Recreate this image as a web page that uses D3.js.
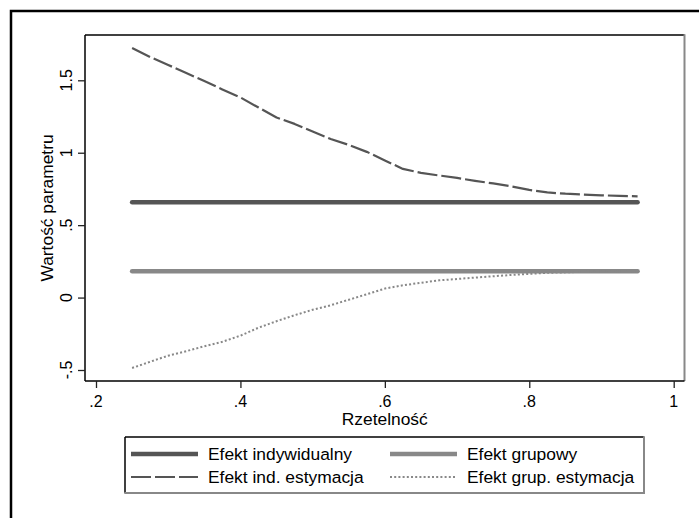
<!DOCTYPE html>
<html><head><meta charset="utf-8">
<script src="https://cdn.jsdelivr.net/npm/d3@7"></script>
<style>
html,body{margin:0;padding:0;background:#fff;}
svg{display:block;font-family:"Liberation Sans",Arial,sans-serif;}
</style></head>
<body>
<svg id="c" width="699" height="518"></svg>
<script>
// ---- data ----
const rel = [0.25,0.275,0.30,0.325,0.35,0.375,0.40,0.425,0.45,0.475,0.50,0.525,0.55,0.575,0.60,0.625,0.65,0.675,0.70,0.725,0.75,0.775,0.80,0.825,0.85,0.875,0.90,0.925,0.95];
const efektInd = rel.map(() => 0.658);
const efektGrup = rel.map(() => 0.181);
const indEst = [1.723,1.661,1.606,1.550,1.495,1.437,1.382,1.312,1.243,1.199,1.147,1.095,1.054,1.006,0.947,0.888,0.861,0.843,0.826,0.806,0.788,0.768,0.743,0.726,0.717,0.711,0.706,0.702,0.699];
const grupEst = [-0.486,-0.443,-0.401,-0.370,-0.336,-0.305,-0.263,-0.208,-0.163,-0.122,-0.084,-0.053,-0.015,0.023,0.062,0.085,0.102,0.119,0.128,0.138,0.147,0.156,0.164,0.171,0.174,0.178,0.180,0.181,0.181];
const xTicks = [0.2,0.4,0.6,0.8,1];
const xTickLabels = [".2",".4",".6",".8","1"];
const yTicks = [-0.5,0,0.5,1,1.5];
const yTickLabels = ["-.5","0",".5","1","1.5"];
const seriesNames = ["Efekt indywidualny","Efekt grupowy","Efekt ind. estymacja","Efekt grup. estymacja"];

const svg = d3.select("#c");
const x = d3.scaleLinear().domain([0.2,1]).range([96,673.7]);
const y = d3.scaleLinear().domain([-0.5,1.5]).range([370,80.3]);
const L=85, R=684.5, T=35, B=381;

// outer frame
svg.append("rect").attr("x",11).attr("y",11).attr("width",700).attr("height",520)
  .attr("fill","none").attr("stroke","#000").attr("stroke-width",2.5);

// plot region frame
svg.append("line").attr("x1",L).attr("x2",R).attr("y1",T).attr("y2",T).attr("stroke","#000").attr("stroke-width",1.5);
svg.append("line").attr("x1",R).attr("x2",R).attr("y1",T-0.7).attr("y2",B).attr("stroke","#888").attr("stroke-width",2);

// series
const styles = [
  {c:"#555", w:4.5, d:null, cap:"round"},
  {c:"#888", w:4.5, d:null, cap:"round"},
  {c:"#555", w:2.2, d:"20,4", cap:"butt"},
  {c:"#888", w:2, d:"2,2.2", cap:"butt"}
];
const data = [efektInd, efektGrup, indEst, grupEst];
const line = d3.line().x((d,i)=>x(rel[i])).y(d=>y(d));
data.forEach((s,k)=>{
  const p = svg.append("path").datum(s).attr("d",line)
    .attr("fill","none").attr("stroke",styles[k].c).attr("stroke-width",styles[k].w)
    .attr("stroke-linecap",styles[k].cap).attr("stroke-linejoin","round");
  if(styles[k].d) p.attr("stroke-dasharray",styles[k].d);
});

// axes
const yAx = svg.append("g").attr("transform",`translate(${L},0)`)
  .call(d3.axisLeft(y).tickValues(yTicks).tickSize(7).tickFormat(""));
yAx.select(".domain").attr("d",`M0,${T}V${B}`).attr("stroke","#000").attr("stroke-width",1.5);
yAx.selectAll(".tick line").attr("stroke","#222").attr("stroke-width",1.3);
const xAx = svg.append("g").attr("transform",`translate(0,${B})`)
  .call(d3.axisBottom(x).tickValues(xTicks).tickSize(7).tickFormat(""));
xAx.select(".domain").attr("d",`M${L},0H${R}`).attr("stroke","#000").attr("stroke-width",1.5);
xAx.selectAll(".tick line").attr("stroke","#222").attr("stroke-width",1.3);

// tick labels
yTicks.forEach((v,i)=>{
  svg.append("text").attr("transform",`translate(72,${y(v)}) rotate(-90)`)
    .attr("text-anchor","middle").attr("font-size",16).attr("fill","#000").text(yTickLabels[i]);
});
xTicks.forEach((v,i)=>{
  svg.append("text").attr("x",x(v)).attr("y",407)
    .attr("text-anchor","middle").attr("font-size",16).attr("fill","#000").text(xTickLabels[i]);
});

// axis titles
svg.append("text").attr("transform",`translate(53,${(T+B)/2}) rotate(-90)`)
  .attr("text-anchor","middle").attr("font-size",17.4).text("Wartość parametru");
svg.append("text").attr("x",(L+R)/2).attr("y",425)
  .attr("text-anchor","middle").attr("font-size",17.4).text("Rzetelność");

// legend
const lg = {x0:125, x1:644, y0:437, y1:493};
svg.append("line").attr("x1",lg.x0).attr("x2",lg.x1).attr("y1",lg.y0).attr("y2",lg.y0).attr("stroke","#000").attr("stroke-width",1.5);
svg.append("line").attr("x1",lg.x0).attr("x2",lg.x0).attr("y1",lg.y0).attr("y2",lg.y1).attr("stroke","#000").attr("stroke-width",1.5);
svg.append("line").attr("x1",lg.x1).attr("x2",lg.x1).attr("y1",lg.y0-0.7).attr("y2",lg.y1+1).attr("stroke","#888").attr("stroke-width",2);
svg.append("line").attr("x1",lg.x0-0.7).attr("x2",lg.x1).attr("y1",lg.y1).attr("y2",lg.y1).attr("stroke","#888").attr("stroke-width",2);
const keyPos = [[131,454],[390,454],[131,477],[390,477]];
seriesNames.forEach((n,k)=>{
  const [kx,ky] = keyPos[k];
  const l = svg.append("line").attr("x1",kx).attr("x2",kx+67).attr("y1",ky).attr("y2",ky)
    .attr("stroke",styles[k].c).attr("stroke-width",styles[k].w).attr("stroke-linecap","butt");
  if(styles[k].d) l.attr("stroke-dasharray",styles[k].d);
  svg.append("text").attr("x",kx+77).attr("y",ky+6).attr("font-size",17.4).text(n);
});
</script>
</body></html>
